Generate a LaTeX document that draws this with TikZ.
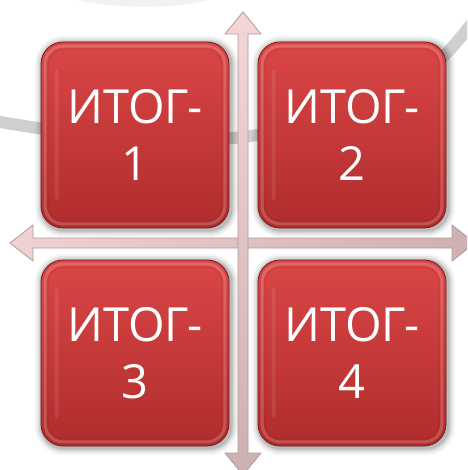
\documentclass[tikz,border=0pt]{standalone}
\usepackage{fontspec}
\setmainfont{Open Sans}
\usetikzlibrary{calc}
\definecolor{boxtop}{HTML}{DA4646}
\definecolor{boxbot}{HTML}{B02C2C}
\definecolor{boxedge}{HTML}{7A1A1A}
\definecolor{arrowlight}{HTML}{F4D6D6}
\definecolor{arrowdark}{HTML}{CDB0B0}
\definecolor{arrowedge}{HTML}{B39A9A}
\definecolor{swoosh}{HTML}{CFCFCF}
\tikzset{
  tile/.style={rounded corners=22pt, minimum width=188pt, minimum height=186pt,
    inner sep=0pt, top color=boxtop, bottom color=boxbot, draw=boxedge,
    line width=0.8pt, text=white, align=center,
    font=\fontsize{47}{57}\selectfont},
  axisarrow/.style={draw=arrowedge, line width=0.8pt, line join=miter},
}
\newcommand{\tileshadow}[1]{%
  \foreach \g/\o in {7/0.04,5/0.06,3/0.08,1.5/0.11}{
    \fill[black, opacity=\o, rounded corners=22pt+\g pt]
      ($(#1.south west)+(-\g+1,\g+2)$) rectangle ($(#1.north east)+(\g+2,-\g+1)$);
  }}
\newcommand{\tilebevel}[1]{%
  \draw[white, opacity=0.18, line width=3pt, rounded corners=18pt]
    ($(#1.south west)+(4.5,-4.5)$) rectangle ($(#1.north east)+(-4.5,4.5)$);
  \draw[boxedge, opacity=0.15, line width=1pt, rounded corners=16pt]
    ($(#1.south west)+(7.5,-7.5)$) rectangle ($(#1.north east)+(-7.5,7.5)$);
  \fill[white, opacity=0.09, rounded corners=3pt]
    ($(#1.north west)+(14,28)$) rectangle ($(#1.south west)+(18,-28)$);
}
\begin{document}
\begin{tikzpicture}[x=1pt, y=-1pt]
  \useasboundingbox (0,0) rectangle (467,470);
  \fill[white] (0,0) rectangle (467,470);
  \begin{scope}
    \clip (0,0) rectangle (467,470);
    % background swooshes
    \fill[black!5] (78,0) .. controls (115,9) and (175,9) .. (208,0) -- cycle;
    \draw[swoosh, line width=12pt, line cap=round]
      plot[smooth, tension=0.6] coordinates
      {(-12,120) (60,131) (150,139) (243,137) (330,118) (400,90) (445,55) (490,0)};
    % axis cross
    \coordinate (hub) at (243,243);
    \coordinate (north) at (243,12);
    \coordinate (south) at (243,475);
    \coordinate (west) at (10,243);
    \coordinate (east) at (475,243);
    \path[axisarrow, left color=arrowlight!90!arrowdark, right color=arrowdark]
      (west) -- ($(west)+(23,-18)$) -- ($(west)+(23,-5)$)
      -- ($(east)+(-23,-5)$) -- ($(east)+(-23,-18)$) -- (east)
      -- ($(east)+(-23,18)$) -- ($(east)+(-23,5)$)
      -- ($(west)+(23,5)$) -- ($(west)+(23,18)$) -- cycle;
    \path[axisarrow, top color=arrowlight, bottom color=arrowdark]
      (north) -- ($(north)+(18,22)$) -- ($(north)+(5,22)$)
      -- ($(south)+(5,-22)$) -- ($(south)+(18,-22)$) -- (south)
      -- ($(south)+(-18,-22)$) -- ($(south)+(-5,-22)$)
      -- ($(north)+(-5,22)$) -- ($(north)+(-18,22)$) -- cycle;
  \end{scope}
  % tiles
  \path (135,135) coordinate (p1) (352,135) coordinate (p2)
        (135,353) coordinate (p3) (352,353) coordinate (p4);
  \foreach \i in {1,...,4}{
    \path (p\i) node[minimum width=188pt, minimum height=186pt] (s\i) {};
    \tileshadow{s\i}
  }
  \node[tile] (t1) at (p1) {ИТОГ-\\1};
  \node[tile] (t2) at (p2) {ИТОГ-\\2};
  \node[tile] (t3) at (p3) {ИТОГ-\\3};
  \node[tile] (t4) at (p4) {ИТОГ-\\4};
  \foreach \i in {1,...,4}{\tilebevel{t\i}}
\end{tikzpicture}
\end{document}
